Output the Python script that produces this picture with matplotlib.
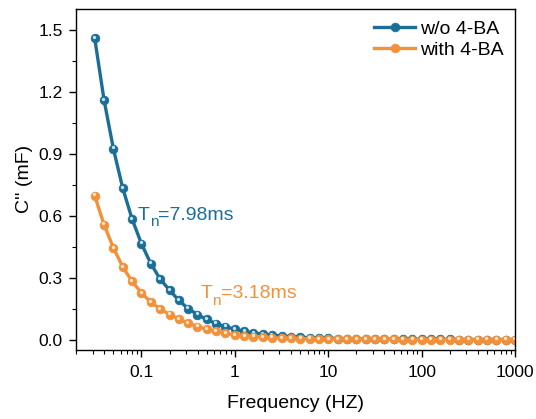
import matplotlib
matplotlib.use('Agg')
import matplotlib.pyplot as plt
import matplotlib.transforms as mtransforms
from matplotlib.ticker import MultipleLocator, LogLocator, FixedLocator, FixedFormatter

plt.rcParams['font.family'] = ['Liberation Sans', 'DejaVu Sans']

# frequency points (Hz), 10 per decade
freq = [0.0316, 0.0398, 0.0501, 0.0631, 0.0794,
        0.1, 0.126, 0.158, 0.2, 0.251, 0.316, 0.398, 0.501, 0.631, 0.794,
        1, 1.26, 1.58, 2, 2.51, 3.16, 3.98, 5.01, 6.31, 7.94,
        10, 12.6, 15.8, 20, 25.1, 31.6, 39.8, 50.1, 63.1, 79.4,
        100, 126, 158, 200, 251, 316, 398, 501, 631, 794, 1000]

# C'' (mF)
c_without = [1.46, 1.16, 0.924, 0.733, 0.584, 0.464, 0.368, 0.294, 0.239, 0.190,
             0.150, 0.121, 0.097, 0.077, 0.062, 0.050, 0.040, 0.032, 0.026, 0.021,
             0.017, 0.013, 0.011, 0.009, 0.007, 0.006, 0.005, 0.004, 0.003, 0.003,
             0.002, 0.002, 0.002, 0.001, 0.001, 0.001, 0.001, 0.001, 0.001, 0.0,
             0.0, 0.0, 0.0, 0.0, 0.0, 0.0]
c_with = [0.697, 0.556, 0.444, 0.352, 0.282, 0.226, 0.181, 0.149, 0.121, 0.100,
          0.079, 0.063, 0.050, 0.039, 0.030, 0.023, 0.018, 0.014, 0.011, 0.009,
          0.007, 0.006, 0.005, 0.004, 0.003, 0.003, 0.002, 0.002, 0.002, 0.001,
          0.001, 0.001, 0.001, 0.0, 0.0, 0.0, 0.0, 0.0, 0.0, 0.0,
          0.0, 0.0, 0.0, 0.0, 0.0, 0.0]

labels = ['w/o 4-BA', 'with 4-BA']
tau_values = ['=7.98ms', '=3.18ms']
x_ticks = [0.1, 1, 10, 100, 1000]
x_ticklabels = ['0.1', '1', '10', '100', '1000']

blue = '#1B6F96'
orange = '#F2913A'
blue_hi = '#C4E2F0'
orange_hi = '#FFE6CC'

fig = plt.figure(figsize=(5.36, 4.19), dpi=100)
ax = fig.add_axes([0.142, 0.165, 0.819, 0.8135])

hi_offset = mtransforms.offset_copy(ax.transData, fig=fig, x=-0.5, y=0.9, units='points')

for y, col, hi, lab in [(c_without, blue, blue_hi, labels[0]), (c_with, orange, orange_hi, labels[1])]:
    ax.plot(freq, y, color=col, lw=2.4, marker='o', ms=6.3, mfc=col, mec=col, mew=0.5, label=lab)
    ax.plot(freq, y, ls='none', marker='o', ms=2.4, mfc=hi, mec='none', transform=hi_offset)


def tau_label(x, y, value, col):
    # "T" + lowered small "n" + "=...ms"
    t1 = ax.text(x, y, 'T', color=col, fontsize=14, va='baseline', ha='left')
    t2 = ax.annotate('n', xy=(1, 0), xycoords=t1, color=col, fontsize=11,
                     va='center', ha='left', xytext=(0, 1), textcoords='offset points')
    ax.annotate(value, xy=(1, 0), xycoords=(t2, t1), color=col, fontsize=14,
                va='bottom', ha='left')


tau_label(0.092, 0.58, tau_values[0], blue)
tau_label(0.43, 0.20, tau_values[1], orange)

ax.set_xscale('log')
ax.set_xlim(0.02, 1000)
ax.set_ylim(-0.05, 1.6)
ax.xaxis.set_major_locator(FixedLocator(x_ticks))
ax.xaxis.set_major_formatter(FixedFormatter(x_ticklabels))
ax.xaxis.set_minor_locator(LogLocator(base=10, subs=range(2, 10), numticks=20))
ax.yaxis.set_major_locator(MultipleLocator(0.3))
ax.yaxis.set_minor_locator(MultipleLocator(0.15))
ax.yaxis.set_major_formatter(plt.FormatStrFormatter('%.1f'))

ax.tick_params(which='major', direction='out', length=5, width=1, labelsize=12.5)
ax.tick_params(axis='x', which='major', pad=6)
ax.tick_params(axis='y', which='major', pad=4.5)
ax.tick_params(which='minor', direction='out', length=3, width=0.8)
for s in ax.spines.values():
    s.set_linewidth(1)

ax.set_xlabel('Frequency (HZ)', fontsize=14, labelpad=10.5)
ax.set_ylabel("C'' (mF)", fontsize=14, labelpad=4)

ax.legend(loc='upper right', frameon=False, fontsize=14, handlelength=2.1,
          handletextpad=0.25, labelspacing=0.15, borderaxespad=0.3, borderpad=0.3)

fig.savefig('out.png', dpi=100)
